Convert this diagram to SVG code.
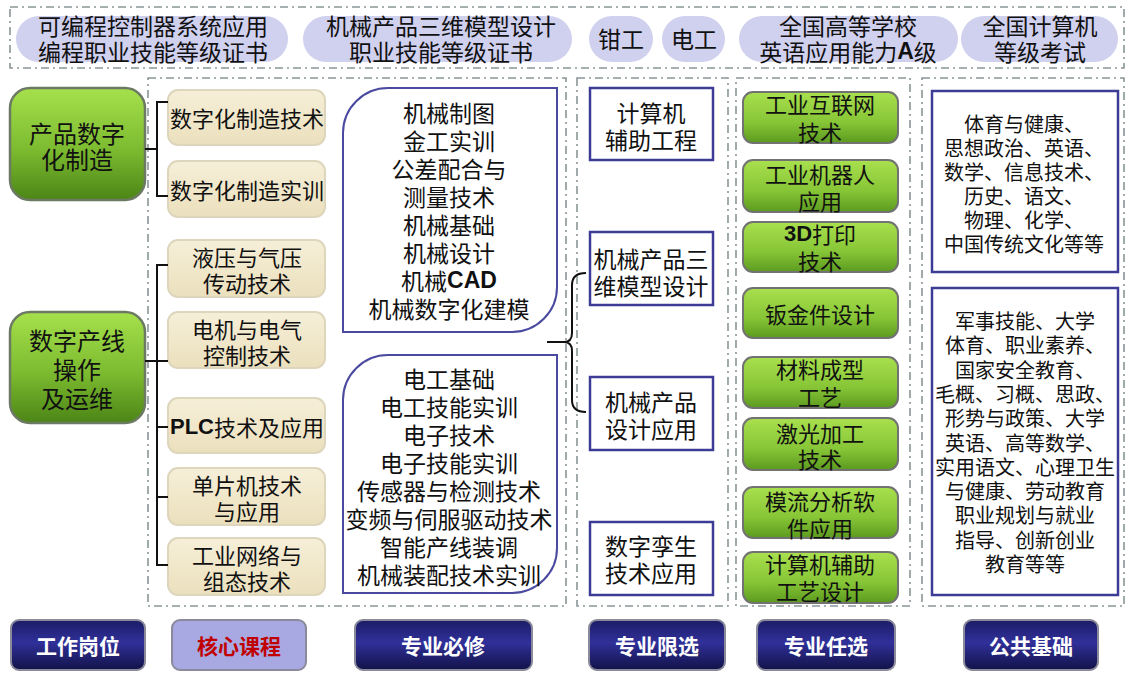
<svg xmlns="http://www.w3.org/2000/svg" width="1129" height="673" viewBox="0 0 1129 673">
<defs>
<linearGradient id="gJob" x1="0" y1="0" x2="0" y2="1">
<stop offset="0" stop-color="#a6e14c"/><stop offset="0.55" stop-color="#7cbb30"/><stop offset="1" stop-color="#4c8516"/>
</linearGradient>
<linearGradient id="gOpt" x1="0" y1="0" x2="0" y2="1">
<stop offset="0" stop-color="#a9e04e"/><stop offset="0.6" stop-color="#86c536"/><stop offset="1" stop-color="#5c9a1f"/>
</linearGradient>
<linearGradient id="gCore" x1="0" y1="0" x2="0" y2="1">
<stop offset="0" stop-color="#f6efd8"/><stop offset="1" stop-color="#ebe0bd"/>
</linearGradient>
<linearGradient id="gBtn" x1="0" y1="0" x2="0" y2="1">
<stop offset="0" stop-color="#1c1c66"/><stop offset="0.45" stop-color="#30309a"/><stop offset="1" stop-color="#121248"/>
</linearGradient>
<style>
text{font-family:"Noto Sans CJK SC",sans-serif;fill:#111;text-anchor:middle;dominant-baseline:central}
.lat{font-family:"Liberation Sans",Arial,sans-serif;font-weight:bold}
.t22{font-size:22px}
.t23{font-size:23px}
.t20{font-size:20px}
.t24{font-size:24px}
.dash{fill:none;stroke:#8a9696;stroke-width:1.6;stroke-dasharray:8 4 2 4}
.pill{fill:#d0d0ef}
.job{fill:url(#gJob);stroke:#6d7a63;stroke-width:2.5}
.opt{fill:url(#gOpt);stroke:#727272;stroke-width:2}
.core{fill:url(#gCore);stroke:#ddd6bd;stroke-width:2}
.req{fill:#fff;stroke:#4a4aa0;stroke-width:2}
.box{fill:#fff;stroke:#3c3c96;stroke-width:2.5}
.btn{fill:url(#gBtn);stroke:#8a8a9a;stroke-width:2}
.btnt{font-size:21px;fill:#fff;font-weight:bold}
.con{fill:none;stroke:#111;stroke-width:2}
</style>
</defs>
<rect width="1129" height="673" fill="#fff"/>

<!-- dashed frames -->
<g id="frames">
<rect class="dash" x="10" y="7" width="1114" height="61"/>
<rect class="dash" x="148" y="78" width="418" height="528"/>
<rect class="dash" x="577" y="78" width="151" height="528"/>
<rect class="dash" x="736" y="78" width="174" height="528"/>
<rect class="dash" x="922" y="78" width="202" height="528"/>
</g>

<!-- top certificates -->
<g id="cert1"><rect class="pill" x="16" y="16" width="272" height="46" rx="23"/>
<text class="t23" x="153" y="25"><tspan x="153">可编程控制器系统应用</tspan><tspan x="153" dy="26">编程职业技能等级证书</tspan></text></g>
<g id="cert2"><rect class="pill" x="303" y="16" width="269" height="46" rx="23"/>
<text class="t23" x="441" y="25"><tspan x="441">机械产品三维模型设计</tspan><tspan x="441" dy="26">职业技能等级证书</tspan></text></g>
<g id="cert3"><rect class="pill" x="589" y="16" width="64" height="46" rx="23"/>
<text class="t23" x="621" y="38">钳工</text></g>
<g id="cert4"><rect class="pill" x="662" y="16" width="63" height="46" rx="23"/>
<text class="t23" x="694" y="38">电工</text></g>
<g id="cert5"><rect class="pill" x="739" y="16" width="219" height="46" rx="23"/>
<text class="t23" x="848" y="25"><tspan x="848">全国高等学校</tspan><tspan x="848" dy="26">英语应用能力</tspan><tspan class="lat">A</tspan><tspan>级</tspan></text></g>
<g id="cert6"><rect class="pill" x="961" y="16" width="157" height="46" rx="23"/>
<text class="t23" x="1040" y="25"><tspan x="1040">全国计算机</tspan><tspan x="1040" dy="26">等级考试</tspan></text></g>

<!-- jobs -->
<g id="job1"><rect class="job" x="10" y="88" width="135" height="112" rx="20"/>
<text class="t24" x="77" y="132"><tspan x="77">产品数字</tspan><tspan x="77" dy="26">化制造</tspan></text></g>
<g id="job2"><rect class="job" x="10" y="312" width="135" height="111" rx="20"/>
<text class="t24" x="77" y="339"><tspan x="77">数字产线</tspan><tspan x="77" dy="29">操作</tspan><tspan x="77" dy="29">及运维</tspan></text></g>

<!-- core courses -->
<g id="core1"><rect class="core" x="168" y="90" width="157" height="55" rx="10"/><text class="t22" x="247" y="117">数字化制造技术</text></g>
<g id="core2"><rect class="core" x="168" y="161" width="157" height="56" rx="10"/><text class="t22" x="247" y="189">数字化制造实训</text></g>
<g id="core3"><rect class="core" x="168" y="240" width="157" height="57" rx="10"/><text class="t22" x="247" y="256"><tspan x="247">液压与气压</tspan><tspan x="247" dy="26">传动技术</tspan></text></g>
<g id="core4"><rect class="core" x="168" y="312" width="157" height="56" rx="10"/><text class="t22" x="247" y="328"><tspan x="247">电机与电气</tspan><tspan x="247" dy="26">控制技术</tspan></text></g>
<g id="core5"><rect class="core" x="168" y="398" width="157" height="55" rx="10"/><text class="t22" x="247" y="426"><tspan class="lat">PLC</tspan>技术及应用</text></g>
<g id="core6"><rect class="core" x="168" y="468" width="157" height="57" rx="10"/><text class="t22" x="247" y="484"><tspan x="247">单片机技术</tspan><tspan x="247" dy="26">与应用</tspan></text></g>
<g id="core7"><rect class="core" x="168" y="538" width="157" height="57" rx="10"/><text class="t22" x="247" y="554"><tspan x="247">工业网络与</tspan><tspan x="247" dy="26">组态技术</tspan></text></g>

<!-- required -->
<g id="req1"><path class="req" d="M343,133 A45,45 0 0 1 388,88 H557 V287 A45,45 0 0 1 512,332 H343 Z"/>
<text class="t23" x="449" y="112"><tspan x="449">机械制图</tspan><tspan x="449" dy="28">金工实训</tspan><tspan x="449" dy="28">公差配合与</tspan><tspan x="449" dy="28">测量技术</tspan><tspan x="449" dy="28">机械基础</tspan><tspan x="449" dy="28">机械设计</tspan><tspan x="449" dy="28">机械</tspan><tspan class="lat">CAD</tspan><tspan x="449" dy="28">机械数字化建模</tspan></text></g>
<g id="req2"><path class="req" d="M343,400 A45,45 0 0 1 388,355 H557 V548 A45,45 0 0 1 512,593 H343 Z"/>
<text class="t23" x="449" y="378"><tspan x="449">电工基础</tspan><tspan x="449" dy="28">电工技能实训</tspan><tspan x="449" dy="28">电子技术</tspan><tspan x="449" dy="28">电子技能实训</tspan><tspan x="449" dy="28">传感器与检测技术</tspan><tspan x="449" dy="28">变频与伺服驱动技术</tspan><tspan x="449" dy="28">智能产线装调</tspan><tspan x="449" dy="28">机械装配技术实训</tspan></text></g>

<!-- limited electives -->
<g id="lim1"><rect class="box" x="590" y="88" width="123" height="72"/><text class="t23" x="651" y="112"><tspan x="651">计算机</tspan><tspan x="651" dy="27">辅助工程</tspan></text></g>
<g id="lim2"><rect class="box" x="590" y="232" width="123" height="73"/><text class="t23" x="651" y="258"><tspan x="651">机械产品三</tspan><tspan x="651" dy="27">维模型设计</tspan></text></g>
<g id="lim3"><rect class="box" x="590" y="377" width="123" height="73"/><text class="t23" x="651" y="401"><tspan x="651">机械产品</tspan><tspan x="651" dy="27">设计应用</tspan></text></g>
<g id="lim4"><rect class="box" x="590" y="522" width="123" height="73"/><text class="t23" x="651" y="545"><tspan x="651">数字孪生</tspan><tspan x="651" dy="27">技术应用</tspan></text></g>

<!-- optional electives -->
<g id="opt1"><rect class="opt" x="743" y="92" width="155" height="51" rx="10"/><text class="t22" x="820" y="103"><tspan x="820">工业互联网</tspan><tspan x="820" dy="28">技术</tspan></text></g>
<g id="opt2"><rect class="opt" x="743" y="160" width="155" height="52" rx="10"/><text class="t22" x="820" y="173"><tspan x="820">工业机器人</tspan><tspan x="820" dy="27">应用</tspan></text></g>
<g id="opt3"><rect class="opt" x="743" y="222" width="155" height="50" rx="10"/><text class="t22" x="820" y="233"><tspan x="820" class="lat">3D</tspan><tspan>打印</tspan><tspan x="820" dy="27">技术</tspan></text></g>
<g id="opt4"><rect class="opt" x="743" y="288" width="155" height="50" rx="10"/><text class="t22" x="820" y="313">钣金件设计</text></g>
<g id="opt5"><rect class="opt" x="743" y="357" width="155" height="51" rx="10"/><text class="t22" x="820" y="368"><tspan x="820">材料成型</tspan><tspan x="820" dy="28">工艺</tspan></text></g>
<g id="opt6"><rect class="opt" x="743" y="418" width="155" height="52" rx="10"/><text class="t22" x="820" y="432"><tspan x="820">激光加工</tspan><tspan x="820" dy="26">技术</tspan></text></g>
<g id="opt7"><rect class="opt" x="743" y="487" width="155" height="51" rx="10"/><text class="t22" x="820" y="500"><tspan x="820">模流分析软</tspan><tspan x="820" dy="27">件应用</tspan></text></g>
<g id="opt8"><rect class="opt" x="743" y="552" width="155" height="51" rx="10"/><text class="t22" x="820" y="563"><tspan x="820">计算机辅助</tspan><tspan x="820" dy="27">工艺设计</tspan></text></g>

<!-- public basics -->
<g id="pub1"><rect class="box" x="932" y="91" width="186" height="181"/>
<text class="t20" x="1024" y="123"><tspan x="1024">体育与健康、</tspan><tspan x="1024" dy="24">思想政治、英语、</tspan><tspan x="1024" dy="24">数学、信息技术、</tspan><tspan x="1024" dy="24">历史、语文、</tspan><tspan x="1024" dy="24">物理、化学、</tspan><tspan x="1024" dy="24">中国传统文化等等</tspan></text></g>
<g id="pub2"><rect class="box" x="932" y="288" width="186" height="307"/>
<text class="t20" x="1025" y="320"><tspan x="1025">军事技能、大学</tspan><tspan x="1025" dy="24.3">体育、职业素养、</tspan><tspan x="1025" dy="24.3">国家安全教育、</tspan><tspan x="1025" dy="24.3">毛概、习概、思政、</tspan><tspan x="1025" dy="24.3">形势与政策、大学</tspan><tspan x="1025" dy="24.3">英语、高等数学、</tspan><tspan x="1025" dy="24.3">实用语文、心理卫生</tspan><tspan x="1025" dy="24.3">与健康、劳动教育</tspan><tspan x="1025" dy="24.3">职业规划与就业</tspan><tspan x="1025" dy="24.3">指导、创新创业</tspan><tspan x="1025" dy="24.3">教育等等</tspan></text></g>

<!-- connectors -->
<g id="connectors">
<path class="con" d="M145,149 H157 M168,102 H157 V196 H168"/>
<path class="con" d="M145,361 H168 M168,265 H157 V565 H168 M157,427 H168 M157,497 H168"/>
<path class="con" d="M547,342 H564 M586,273 Q572,273 572,285 V333 Q572,342 564,342 Q572,342 572,351 V400 Q572,412 586,412"/>
</g>

<!-- bottom legend -->
<g id="leg1"><rect class="btn" x="11" y="620" width="134" height="50" rx="8"/><text class="btnt" x="78" y="645">工作岗位</text></g>
<g id="leg2"><rect x="172" y="620" width="134" height="50" rx="8" fill="#a8a8e2" stroke="#8a8a9a" stroke-width="2"/><text class="btnt" x="239" y="645" style="fill:#c00000">核心课程</text></g>
<g id="leg3"><rect class="btn" x="355" y="620" width="177" height="50" rx="8"/><text class="btnt" x="443" y="645">专业必修</text></g>
<g id="leg4"><rect class="btn" x="589" y="620" width="136" height="50" rx="8"/><text class="btnt" x="657" y="645">专业限选</text></g>
<g id="leg5"><rect class="btn" x="757" y="620" width="138" height="50" rx="8"/><text class="btnt" x="826" y="645">专业任选</text></g>
<g id="leg6"><rect class="btn" x="964" y="620" width="134" height="50" rx="8"/><text class="btnt" x="1031" y="645">公共基础</text></g>
</svg>
